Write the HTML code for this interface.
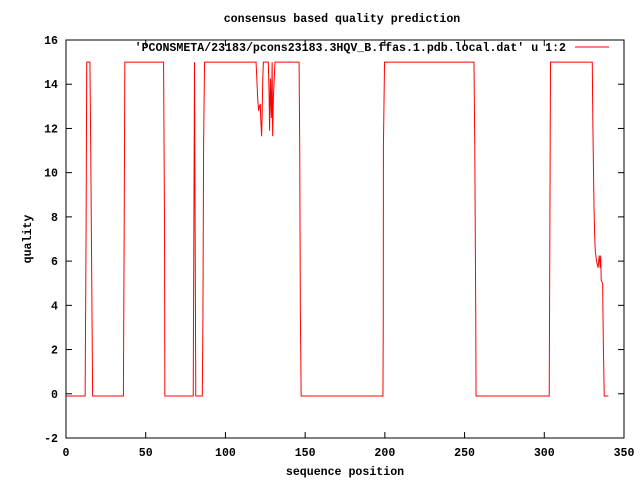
<!DOCTYPE html>
<html><head><meta charset="utf-8"><style>
html,body{margin:0;padding:0;background:#fff}
svg{display:block}
text{font-family:"Liberation Mono",monospace;font-weight:bold;font-size:11.6px;fill:#000}
</style></head><body>
<svg id="chart" width="640" height="480" viewBox="0 0 640 480">
<rect x="0" y="0" width="640" height="480" fill="#fff"/>
<text x="342" y="22" text-anchor="middle">consensus based quality prediction</text>
<text x="345" y="475" text-anchor="middle">sequence position</text>
<text x="31" y="239" text-anchor="middle" transform="rotate(-90 31 239)">quality</text>
<g id="axes"></g>
<g id="series"></g>
<text x="566" y="51" text-anchor="end">'PCONSMETA/23183/pcons23183.3HQV_B.ffas.1.pdb.local.dat' u 1:2</text>
<line x1="575" y1="47" x2="609" y2="47" stroke="#f00" stroke-width="1"/>
</svg>
<script>
const xTicks=[0,50,100,150,200,250,300,350];
const yTicks=[-2,0,2,4,6,8,10,12,14,16];
const seqPos=[
0,12,12.6,13,15,15.5,16.3,16.7,
36,36.5,36.9,61.2,61.8,62,
79.8,80.2,80.6,80.8,81.2,81.4,
85.5,85.9,86.3,86.9,
119.2,119.6,120.2,120.8,121.3,121.9,122.1,122.7,123,123.4,123.8,
126.9,127.4,127.7,128.2,128.8,129.3,129.6,130.1,131.1,
146.2,146.6,147,147.5,
198.8,199,199.1,199.8,
255.9,256.4,257,257.2,
303.1,303.5,303.9,
330.1,330.5,331.2,331.6,332,332.8,333.7,334.5,335,335.4,335.7,336.6,337,337.6,340.2];
const quality=[
-0.1,-0.1,7.5,15,15,11.2,3.7,-0.1,
-0.1,7.5,15,15,7.5,-0.1,
-0.1,7.5,15,11.2,3.7,-0.1,
-0.1,3.7,11.2,15,
15,14.4,13.4,12.8,13.0,13.1,12.5,11.65,12.5,14.2,15,
15,13.5,11.9,14.26,12.47,15,11.65,13.44,15,
15,11.2,3.7,-0.1,
-0.1,3.3,11.2,15,
15,11.2,3.7,-0.1,
-0.1,7.5,15,
15,12.0,8.37,7.12,6.45,6.0,5.7,6.25,5.7,6.25,5.13,4.99,2.44,-0.1,-0.1];
const L=66,R=624,T=40,B=438,XMIN=0,XMAX=350,YMIN=-2,YMAX=16;
const sx=v=>L+(v-XMIN)/(XMAX-XMIN)*(R-L);
const sy=v=>B-(v-YMIN)/(YMAX-YMIN)*(B-T);
const NS="http://www.w3.org/2000/svg";
const axes=document.getElementById('axes');
function mk(tag,attrs,parent){const e=document.createElementNS(NS,tag);for(const k in attrs)e.setAttribute(k,attrs[k]);parent.appendChild(e);return e;}
const frame=mk('rect',{x:L,y:T,width:R-L,height:B-T,fill:'none',stroke:'#000','stroke-width':1},axes);


xTicks.forEach(t=>{
  const x=sx(t);
  const a=mk('line',{x1:x,y1:B,x2:x,y2:B-6,stroke:'#000'},axes);
  
  
  const b=mk('line',{x1:x,y1:T,x2:x,y2:T+6,stroke:'#000'},axes);
  
  
  const l=mk('text',{x:x,y:B+18,'text-anchor':'middle'},axes);
  l.textContent=t;
  
  
});
yTicks.forEach(t=>{
  const y=sy(t);
  const a=mk('line',{x1:L,y1:y,x2:L+6,y2:y,stroke:'#000'},axes);
  
  
  const b=mk('line',{x1:R,y1:y,x2:R-6,y2:y,stroke:'#000'},axes);
  
  
  const l=mk('text',{x:L-8,y:y+4,'text-anchor':'end'},axes);
  l.textContent=t;
  
  
});
const n=Math.min(seqPos.length,quality.length);
const pts=seqPos.slice(0,n).map((x,i)=>sx(x).toFixed(2)+','+sy(quality[i]).toFixed(2)).join(' ');
const line=mk('polyline',{points:pts,fill:'none',stroke:'#f00','stroke-width':1},document.getElementById('series'));


</script>
</body></html>
